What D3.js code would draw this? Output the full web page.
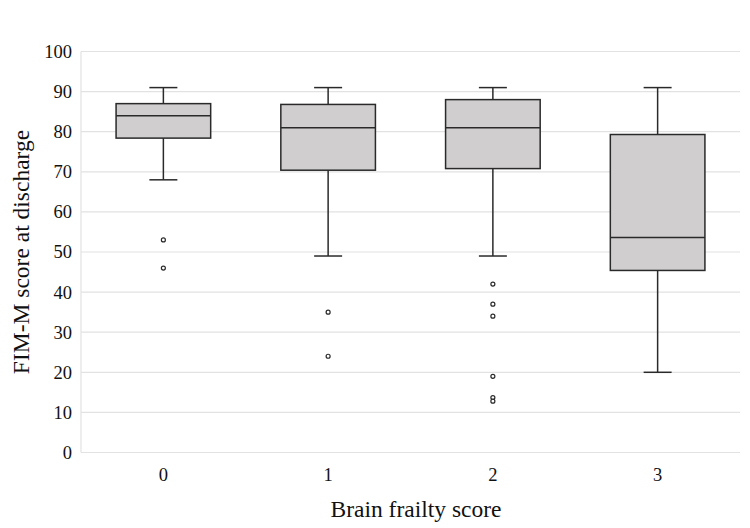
<!DOCTYPE html>
<html><head><meta charset="utf-8">
<script src="https://cdn.jsdelivr.net/npm/d3@7"></script>
<style>body{margin:0;background:#fff}svg{display:block}
text{font-family:'Liberation Serif','Times New Roman',serif !important;}</style>
</head><body>
<svg id="c" width="750" height="528"></svg>
<script>
const categories = ["0","1","2","3"];
const whiskerHigh = [91, 91, 91, 91];
const q3Values = [87, 86.8, 88, 79.3];
const medians = [84, 81, 81, 53.6];
const q1Values = [78.4, 70.4, 70.8, 45.4];
const whiskerLow = [68, 49, 49, 20];
const outliers = [[53, 46], [35, 24], [42, 37, 34, 19, 13.7, 12.8], []];
const yTicks = [0,10,20,30,40,50,60,70,80,90,100];

const svg = d3.select("#c");
const L = 81, R = 740, T = 51.5, B = 452.5;
const x = d3.scaleBand().domain(categories).range([L, R]);
const y = d3.scaleLinear().domain([0, 100]).range([B, T]);

// gridlines
svg.append("g").selectAll("line").data(yTicks).join("line")
  .attr("x1", L).attr("x2", R).attr("y1", d => y(d)).attr("y2", d => y(d))
  .attr("stroke", "#e2e2e2").attr("stroke-width", 1.2);
svg.append("line").attr("x1", L).attr("x2", L).attr("y1", T).attr("y2", B)
  .attr("stroke", "#e2e2e2").attr("stroke-width", 1.2);

// y axis labels
const yAxis = d3.axisLeft(y).tickValues(yTicks).tickSize(0).tickPadding(9);
const ga = svg.append("g").attr("transform", `translate(${L},0)`).call(yAxis);
ga.select(".domain").remove();
ga.selectAll("text").style("font-size", "18.5px").attr("fill", "#111");

const xAxis = d3.axisBottom(x).tickSize(0).tickPadding(15);
const gx = svg.append("g").attr("transform", `translate(0,${B})`).call(xAxis);
gx.select(".domain").remove();
gx.selectAll("text").style("font-size", "18.5px").attr("fill", "#111");

const bw = 94.6, cap = 28;
const stroke = "#2a2a2a";
categories.forEach((c, i) => {
  const cx = x(c) + x.bandwidth() / 2;
  const g = svg.append("g");
  g.append("line").attr("x1", cx).attr("x2", cx).attr("y1", y(whiskerHigh[i])).attr("y2", y(q3Values[i]))
    .attr("stroke", stroke).attr("stroke-width", 1.5);
  g.append("line").attr("x1", cx).attr("x2", cx).attr("y1", y(q1Values[i])).attr("y2", y(whiskerLow[i]))
    .attr("stroke", stroke).attr("stroke-width", 1.5);
  [whiskerHigh[i], whiskerLow[i]].forEach(v => {
    g.append("line").attr("x1", cx - cap/2).attr("x2", cx + cap/2).attr("y1", y(v)).attr("y2", y(v))
      .attr("stroke", stroke).attr("stroke-width", 1.5);
  });
  g.append("rect").attr("x", cx - bw/2).attr("width", bw)
    .attr("y", y(q3Values[i])).attr("height", y(q1Values[i]) - y(q3Values[i]))
    .attr("fill", "#d0cecf").attr("stroke", stroke).attr("stroke-width", 1.5);
  g.append("line").attr("x1", cx - bw/2).attr("x2", cx + bw/2).attr("y1", y(medians[i])).attr("y2", y(medians[i]))
    .attr("stroke", stroke).attr("stroke-width", 1.5);
  g.selectAll("circle").data(outliers[i]).join("circle")
    .attr("cx", cx).attr("cy", d => y(d)).attr("r", 2)
    .attr("fill", "#fff").attr("stroke", stroke).attr("stroke-width", 1.2);
});

svg.append("text").attr("x", 416).attr("y", 517).attr("text-anchor", "middle")
  .style("font-size", "23.5px").attr("fill", "#111").text("Brain frailty score");
svg.append("text").attr("transform", `translate(29,${(T + B) / 2}) rotate(-90)`).attr("text-anchor", "middle")
  .style("font-size", "23.5px").attr("fill", "#111").text("FIM-M score at discharge");
</script>
</body></html>
